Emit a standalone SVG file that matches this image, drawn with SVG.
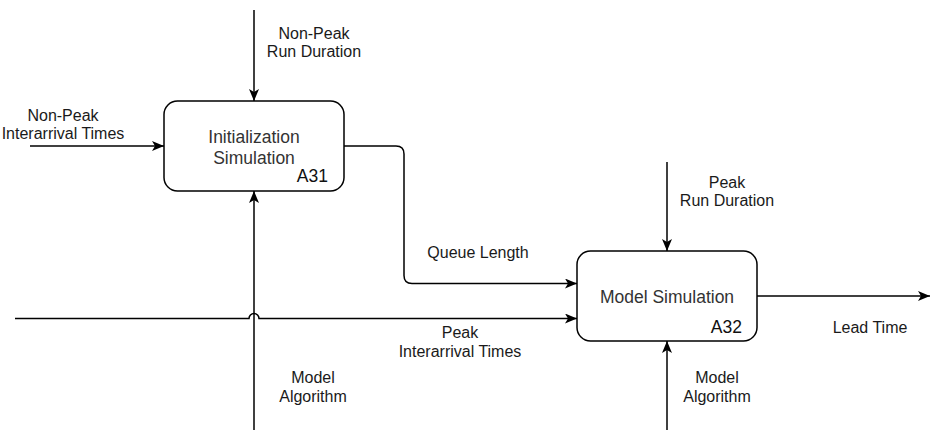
<svg xmlns="http://www.w3.org/2000/svg" width="942" height="444" viewBox="0 0 942 444">
<style>
.box{fill:#fff;stroke:#000;stroke-width:1.5}
.ln{fill:none;stroke:#000;stroke-width:1.5}
.lbl{font-family:"Liberation Sans",Arial,sans-serif;font-size:16px;fill:#1a1a1a;text-anchor:middle}
.bt{font-family:"Liberation Sans",Arial,sans-serif;font-size:17.5px;fill:#333;text-anchor:middle}
.id{font-family:"Liberation Sans",Arial,sans-serif;font-size:17.5px;fill:#111;text-anchor:end}
</style>
<defs>
<marker id="arr" viewBox="0 0 12 10" refX="12" refY="5" markerWidth="12" markerHeight="10" markerUnits="userSpaceOnUse" orient="auto">
<path d="M0,0 L12,5 L0,10 L3,5 Z" fill="#000"/>
</marker>
</defs>
<rect width="942" height="444" fill="#fff"/>
<g id="connectors">
<path class="ln" d="M254,10 V101" marker-end="url(#arr)"/>
<path class="ln" d="M30,146 H164" marker-end="url(#arr)"/>
<path class="ln" d="M254,430 V191" marker-end="url(#arr)"/>
<path class="ln" d="M344,146 H396 Q404,146 404,154 V275.5 Q404,283.5 412,283.5 H577" marker-end="url(#arr)"/>
<path class="ln" d="M15,318.5 H249 A5,5 0 0 1 259,318.5 H577" marker-end="url(#arr)"/>
<path class="ln" d="M667,162 V251" marker-end="url(#arr)"/>
<path class="ln" d="M667,430 V341" marker-end="url(#arr)"/>
<path class="ln" d="M757,296 H930" marker-end="url(#arr)"/>
</g>
<g id="labels">
<text class="lbl" x="314" y="39">Non-Peak</text>
<text class="lbl" x="314" y="57">Run Duration</text>
<text class="lbl" x="63" y="121">Non-Peak</text>
<text class="lbl" x="63" y="139">Interarrival Times</text>
<text class="lbl" x="478" y="258">Queue Length</text>
<text class="lbl" x="460" y="338">Peak</text>
<text class="lbl" x="460" y="357">Interarrival Times</text>
<text class="lbl" x="313" y="383">Model</text>
<text class="lbl" x="313" y="402">Algorithm</text>
<text class="lbl" x="727" y="188">Peak</text>
<text class="lbl" x="727" y="206">Run Duration</text>
<text class="lbl" x="870" y="333">Lead Time</text>
<text class="lbl" x="717" y="383">Model</text>
<text class="lbl" x="717" y="402">Algorithm</text>
</g>
<g id="A31">
<rect class="box" x="164" y="101" width="180" height="90" rx="13.5"/>
<text class="bt" x="254" y="143">Initialization</text>
<text class="bt" x="254" y="164">Simulation</text>
<text class="id" x="328" y="182">A31</text>
</g>
<g id="A32">
<rect class="box" x="577" y="251" width="180" height="90" rx="13.5"/>
<text class="bt" x="667" y="303">Model Simulation</text>
<text class="id" x="742" y="333">A32</text>
</g>
</svg>
